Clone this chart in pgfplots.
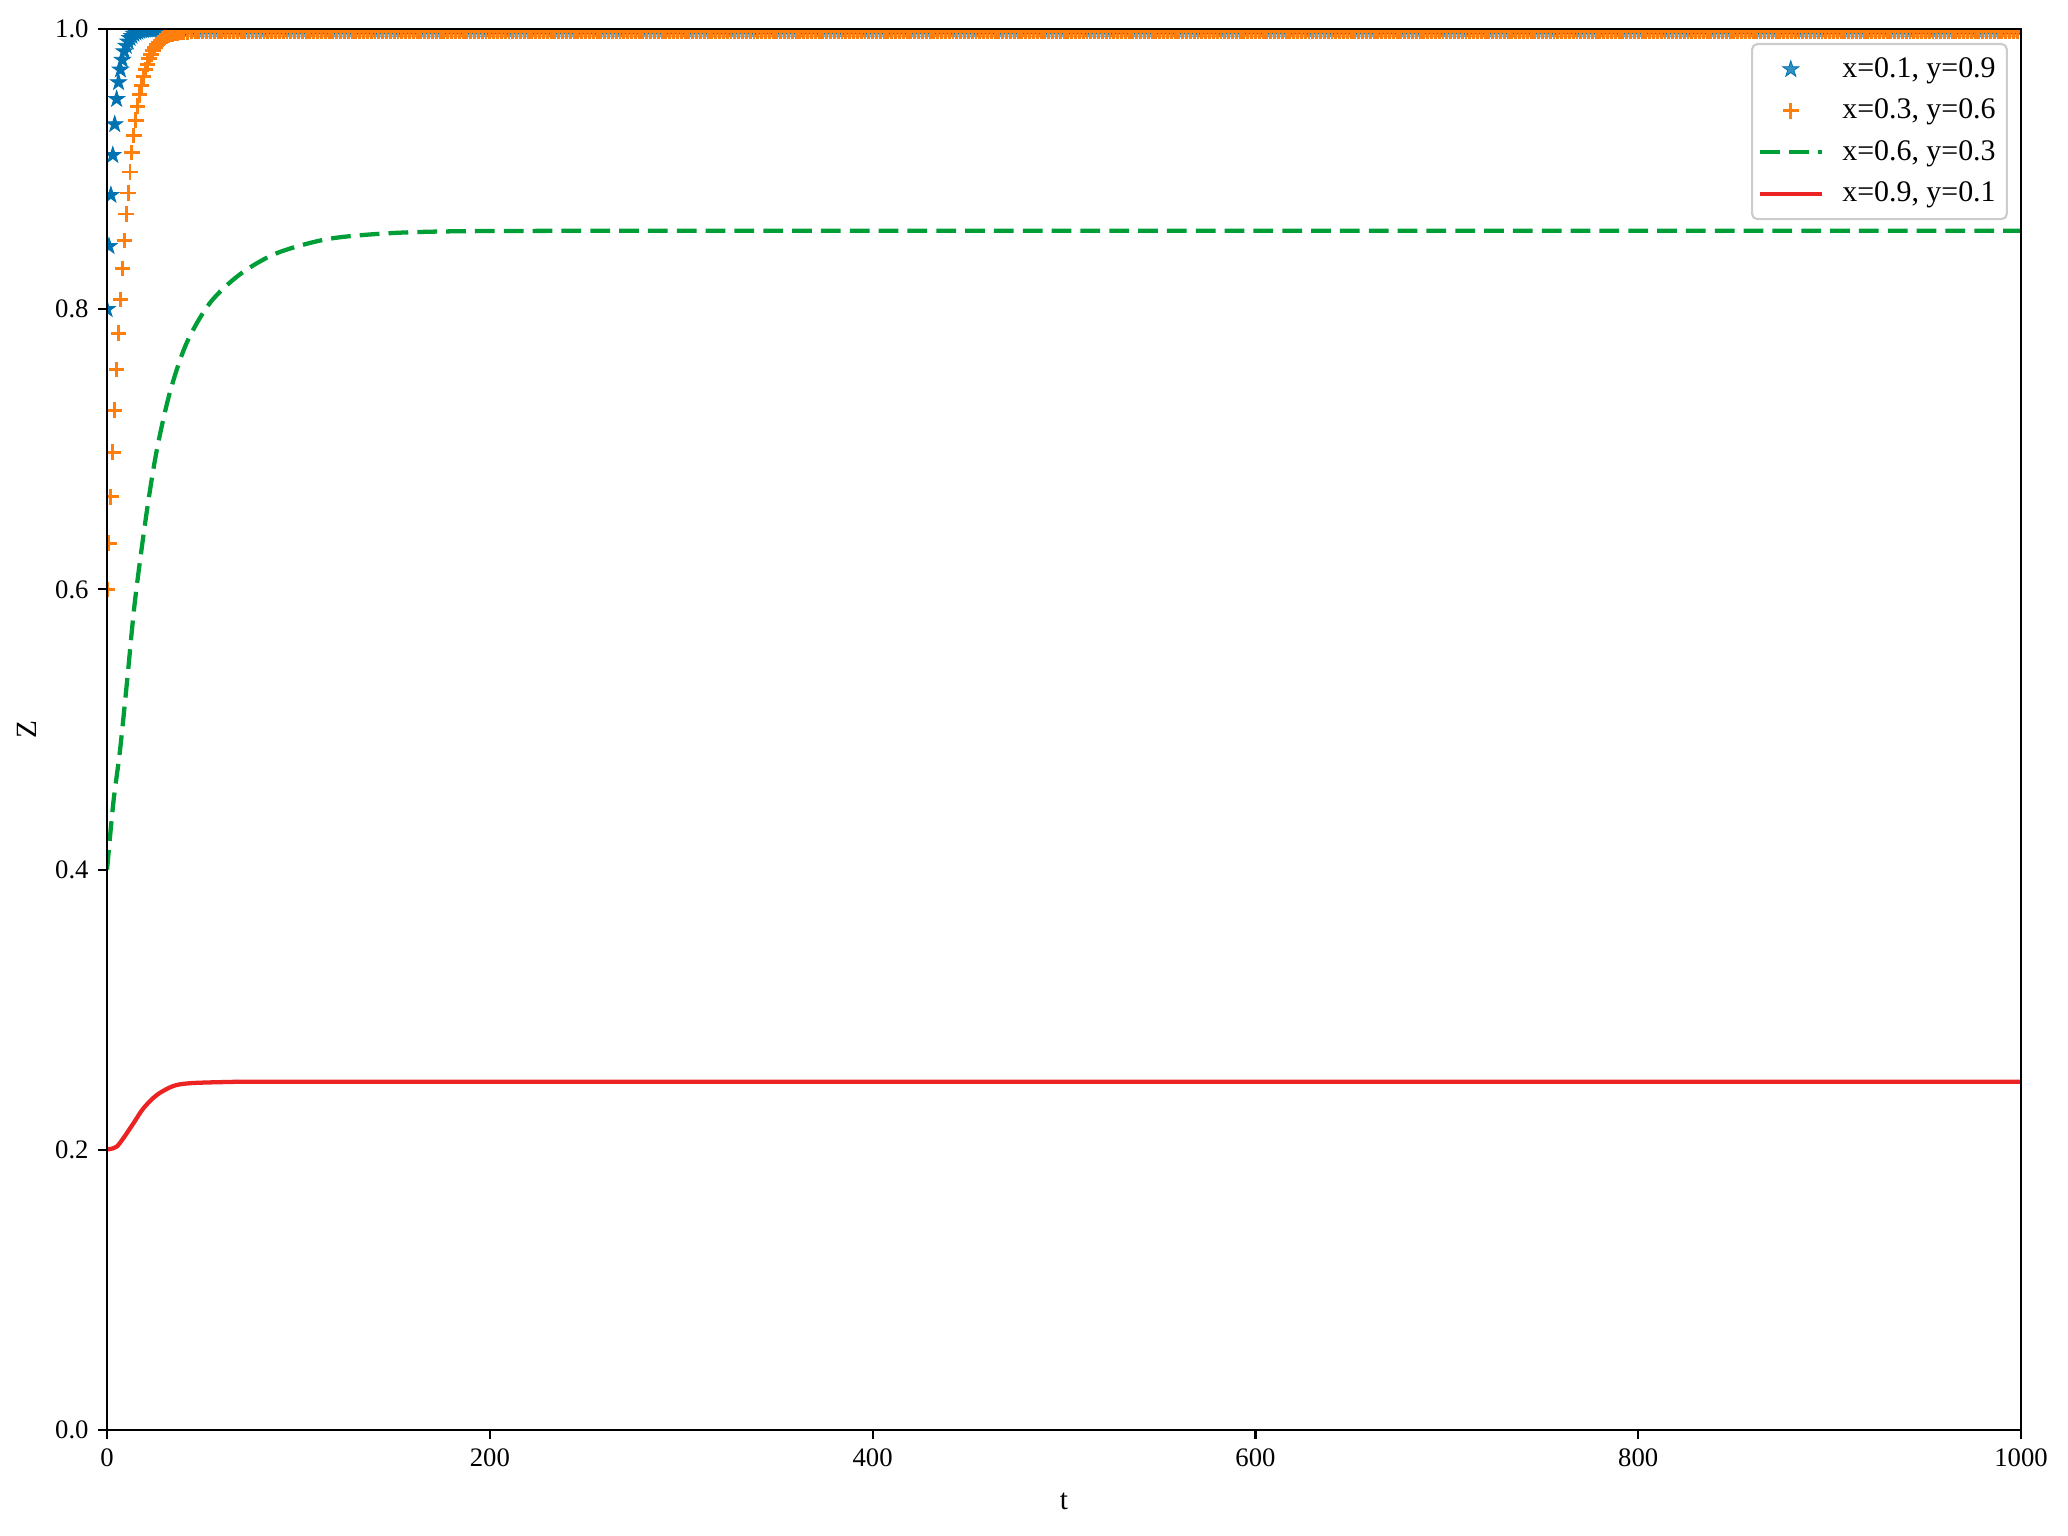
\documentclass[border=0pt]{standalone}
\usepackage{fontspec}
\setmainfont{Liberation Serif}
\usepackage{pgfplots}
\pgfplotsset{compat=1.18}
\usepackage{pgfplotstable}
\usetikzlibrary{calc}
\definecolor{cblue}{RGB}{1,115,178}
\definecolor{corange}{RGB}{255,127,14}
\definecolor{cgreen}{RGB}{0,158,54}
\definecolor{cred}{RGB}{235,35,35}

% filled five-pointed star, like matplotlib's '*'
\pgfdeclareplotmark{fstar}{%
  \pgfpathmoveto{\pgfpointpolar{90}{\pgfplotmarksize}}%
  \pgfpathlineto{\pgfpointpolar{126}{0.382\pgfplotmarksize}}%
  \pgfpathlineto{\pgfpointpolar{162}{\pgfplotmarksize}}%
  \pgfpathlineto{\pgfpointpolar{198}{0.382\pgfplotmarksize}}%
  \pgfpathlineto{\pgfpointpolar{234}{\pgfplotmarksize}}%
  \pgfpathlineto{\pgfpointpolar{270}{0.382\pgfplotmarksize}}%
  \pgfpathlineto{\pgfpointpolar{306}{\pgfplotmarksize}}%
  \pgfpathlineto{\pgfpointpolar{342}{0.382\pgfplotmarksize}}%
  \pgfpathlineto{\pgfpointpolar{18}{\pgfplotmarksize}}%
  \pgfpathlineto{\pgfpointpolar{54}{0.382\pgfplotmarksize}}%
  \pgfpathclose
  \pgfusepathqfillstroke
}

% marker series: a = (x=0.1, y=0.9), b = (x=0.3, y=0.6)
\pgfplotstableread[row sep=\\]{
t a b\\
0 0.800 0.600\\ 1 0.845 0.633\\ 2 0.8815 0.666\\ 3 0.910 0.698\\ 4 0.932 0.728\\
5 0.950 0.757\\ 6 0.962 0.783\\ 7 0.971 0.807\\ 8 0.978 0.829\\ 9 0.984 0.849\\
10 0.988 0.868\\ 11 0.991 0.883\\ 12 0.9935 0.898\\ 13 0.995 0.912\\ 14 0.9965 0.924\\
15 0.9975 0.935\\ 16 0.998 0.945\\ 17 0.9986 0.953\\ 18 0.999 0.960\\ 19 0.9993 0.966\\
20 0.9995 0.971\\ 21 0.9996 0.975\\ 22 0.9997 0.979\\ 23 0.9998 0.982\\ 24 0.9998 0.985\\
25 0.9999 0.987\\ 26 1 0.989\\ 27 1 0.9905\\ 28 1 0.992\\ 29 1 0.993\\
30 1 0.994\\ 31 1 0.9948\\ 32 1 0.9955\\ 33 1 0.996\\ 34 1 0.9965\\
35 1 0.9968\\ 36 1 0.997\\ 37 1 0.9973\\ 38 1 0.9975\\ 39 1 0.9977\\
40 1 0.9978\\ 42 1 0.998\\ 44 1 0.9981\\ 46 1 0.9982\\ 48 1 0.9983\\
50 1 .9985\\ 52 1 .9985\\ 54 1 .9985\\ 56 1 .9985\\ 58 1 .9985\\ 60 1 .9985\\ 62 1 .9985\\ 64 1 .9985\\ 66 1 .9985\\ 68 1 .9985\\
70 1 .9985\\ 72 1 .9985\\ 74 1 .9985\\ 76 1 .9985\\ 78 1 .9985\\ 80 1 .9985\\ 82 1 .9985\\ 84 1 .9985\\ 86 1 .9985\\ 88 1 .9985\\
90 1 .9985\\ 92 1 .9985\\ 94 1 .9985\\ 96 1 .9985\\ 98 1 .9985\\ 100 1 .9985\\ 102 1 .9985\\ 104 1 .9985\\ 106 1 .9985\\ 108 1 .9985\\
110 1 .9985\\ 112 1 .9985\\ 114 1 .9985\\ 116 1 .9985\\ 118 1 .9985\\ 120 1 .9985\\ 122 1 .9985\\ 124 1 .9985\\ 126 1 .9985\\ 128 1 .9985\\
130 1 .9985\\ 132 1 .9985\\ 134 1 .9985\\ 136 1 .9985\\ 138 1 .9985\\ 140 1 .9985\\ 142 1 .9985\\ 144 1 .9985\\ 146 1 .9985\\ 148 1 .9985\\
150 1 .9985\\ 152 1 .9985\\ 154 1 .9985\\ 156 1 .9985\\ 158 1 .9985\\ 160 1 .9985\\ 162 1 .9985\\ 164 1 .9985\\ 166 1 .9985\\ 168 1 .9985\\
170 1 .9985\\ 172 1 .9985\\ 174 1 .9985\\ 176 1 .9985\\ 178 1 .9985\\ 180 1 .9985\\ 182 1 .9985\\ 184 1 .9985\\ 186 1 .9985\\ 188 1 .9985\\
190 1 .9985\\ 192 1 .9985\\ 194 1 .9985\\ 196 1 .9985\\ 198 1 .9985\\ 200 1 .9985\\ 202 1 .9985\\ 204 1 .9985\\ 206 1 .9985\\ 208 1 .9985\\
210 1 .9985\\ 212 1 .9985\\ 214 1 .9985\\ 216 1 .9985\\ 218 1 .9985\\ 220 1 .9985\\ 222 1 .9985\\ 224 1 .9985\\ 226 1 .9985\\ 228 1 .9985\\
230 1 .9985\\ 232 1 .9985\\ 234 1 .9985\\ 236 1 .9985\\ 238 1 .9985\\ 240 1 .9985\\ 242 1 .9985\\ 244 1 .9985\\ 246 1 .9985\\ 248 1 .9985\\
250 1 .9985\\ 252 1 .9985\\ 254 1 .9985\\ 256 1 .9985\\ 258 1 .9985\\ 260 1 .9985\\ 262 1 .9985\\ 264 1 .9985\\ 266 1 .9985\\ 268 1 .9985\\
270 1 .9985\\ 272 1 .9985\\ 274 1 .9985\\ 276 1 .9985\\ 278 1 .9985\\ 280 1 .9985\\ 282 1 .9985\\ 284 1 .9985\\ 286 1 .9985\\ 288 1 .9985\\
290 1 .9985\\ 292 1 .9985\\ 294 1 .9985\\ 296 1 .9985\\ 298 1 .9985\\ 300 1 .9985\\ 302 1 .9985\\ 304 1 .9985\\ 306 1 .9985\\ 308 1 .9985\\
310 1 .9985\\ 312 1 .9985\\ 314 1 .9985\\ 316 1 .9985\\ 318 1 .9985\\ 320 1 .9985\\ 322 1 .9985\\ 324 1 .9985\\ 326 1 .9985\\ 328 1 .9985\\
330 1 .9985\\ 332 1 .9985\\ 334 1 .9985\\ 336 1 .9985\\ 338 1 .9985\\ 340 1 .9985\\ 342 1 .9985\\ 344 1 .9985\\ 346 1 .9985\\ 348 1 .9985\\
350 1 .9985\\ 352 1 .9985\\ 354 1 .9985\\ 356 1 .9985\\ 358 1 .9985\\ 360 1 .9985\\ 362 1 .9985\\ 364 1 .9985\\ 366 1 .9985\\ 368 1 .9985\\
370 1 .9985\\ 372 1 .9985\\ 374 1 .9985\\ 376 1 .9985\\ 378 1 .9985\\ 380 1 .9985\\ 382 1 .9985\\ 384 1 .9985\\ 386 1 .9985\\ 388 1 .9985\\
390 1 .9985\\ 392 1 .9985\\ 394 1 .9985\\ 396 1 .9985\\ 398 1 .9985\\ 400 1 .9985\\ 402 1 .9985\\ 404 1 .9985\\ 406 1 .9985\\ 408 1 .9985\\
410 1 .9985\\ 412 1 .9985\\ 414 1 .9985\\ 416 1 .9985\\ 418 1 .9985\\ 420 1 .9985\\ 422 1 .9985\\ 424 1 .9985\\ 426 1 .9985\\ 428 1 .9985\\
430 1 .9985\\ 432 1 .9985\\ 434 1 .9985\\ 436 1 .9985\\ 438 1 .9985\\ 440 1 .9985\\ 442 1 .9985\\ 444 1 .9985\\ 446 1 .9985\\ 448 1 .9985\\
450 1 .9985\\ 452 1 .9985\\ 454 1 .9985\\ 456 1 .9985\\ 458 1 .9985\\ 460 1 .9985\\ 462 1 .9985\\ 464 1 .9985\\ 466 1 .9985\\ 468 1 .9985\\
470 1 .9985\\ 472 1 .9985\\ 474 1 .9985\\ 476 1 .9985\\ 478 1 .9985\\ 480 1 .9985\\ 482 1 .9985\\ 484 1 .9985\\ 486 1 .9985\\ 488 1 .9985\\
490 1 .9985\\ 492 1 .9985\\ 494 1 .9985\\ 496 1 .9985\\ 498 1 .9985\\ 500 1 .9985\\ 502 1 .9985\\ 504 1 .9985\\ 506 1 .9985\\ 508 1 .9985\\
510 1 .9985\\ 512 1 .9985\\ 514 1 .9985\\ 516 1 .9985\\ 518 1 .9985\\ 520 1 .9985\\ 522 1 .9985\\ 524 1 .9985\\ 526 1 .9985\\ 528 1 .9985\\
530 1 .9985\\ 532 1 .9985\\ 534 1 .9985\\ 536 1 .9985\\ 538 1 .9985\\ 540 1 .9985\\ 542 1 .9985\\ 544 1 .9985\\ 546 1 .9985\\ 548 1 .9985\\
550 1 .9985\\ 552 1 .9985\\ 554 1 .9985\\ 556 1 .9985\\ 558 1 .9985\\ 560 1 .9985\\ 562 1 .9985\\ 564 1 .9985\\ 566 1 .9985\\ 568 1 .9985\\
570 1 .9985\\ 572 1 .9985\\ 574 1 .9985\\ 576 1 .9985\\ 578 1 .9985\\ 580 1 .9985\\ 582 1 .9985\\ 584 1 .9985\\ 586 1 .9985\\ 588 1 .9985\\
590 1 .9985\\ 592 1 .9985\\ 594 1 .9985\\ 596 1 .9985\\ 598 1 .9985\\ 600 1 .9985\\ 602 1 .9985\\ 604 1 .9985\\ 606 1 .9985\\ 608 1 .9985\\
610 1 .9985\\ 612 1 .9985\\ 614 1 .9985\\ 616 1 .9985\\ 618 1 .9985\\ 620 1 .9985\\ 622 1 .9985\\ 624 1 .9985\\ 626 1 .9985\\ 628 1 .9985\\
630 1 .9985\\ 632 1 .9985\\ 634 1 .9985\\ 636 1 .9985\\ 638 1 .9985\\ 640 1 .9985\\ 642 1 .9985\\ 644 1 .9985\\ 646 1 .9985\\ 648 1 .9985\\
650 1 .9985\\ 652 1 .9985\\ 654 1 .9985\\ 656 1 .9985\\ 658 1 .9985\\ 660 1 .9985\\ 662 1 .9985\\ 664 1 .9985\\ 666 1 .9985\\ 668 1 .9985\\
670 1 .9985\\ 672 1 .9985\\ 674 1 .9985\\ 676 1 .9985\\ 678 1 .9985\\ 680 1 .9985\\ 682 1 .9985\\ 684 1 .9985\\ 686 1 .9985\\ 688 1 .9985\\
690 1 .9985\\ 692 1 .9985\\ 694 1 .9985\\ 696 1 .9985\\ 698 1 .9985\\ 700 1 .9985\\ 702 1 .9985\\ 704 1 .9985\\ 706 1 .9985\\ 708 1 .9985\\
710 1 .9985\\ 712 1 .9985\\ 714 1 .9985\\ 716 1 .9985\\ 718 1 .9985\\ 720 1 .9985\\ 722 1 .9985\\ 724 1 .9985\\ 726 1 .9985\\ 728 1 .9985\\
730 1 .9985\\ 732 1 .9985\\ 734 1 .9985\\ 736 1 .9985\\ 738 1 .9985\\ 740 1 .9985\\ 742 1 .9985\\ 744 1 .9985\\ 746 1 .9985\\ 748 1 .9985\\
750 1 .9985\\ 752 1 .9985\\ 754 1 .9985\\ 756 1 .9985\\ 758 1 .9985\\ 760 1 .9985\\ 762 1 .9985\\ 764 1 .9985\\ 766 1 .9985\\ 768 1 .9985\\
770 1 .9985\\ 772 1 .9985\\ 774 1 .9985\\ 776 1 .9985\\ 778 1 .9985\\ 780 1 .9985\\ 782 1 .9985\\ 784 1 .9985\\ 786 1 .9985\\ 788 1 .9985\\
790 1 .9985\\ 792 1 .9985\\ 794 1 .9985\\ 796 1 .9985\\ 798 1 .9985\\ 800 1 .9985\\ 802 1 .9985\\ 804 1 .9985\\ 806 1 .9985\\ 808 1 .9985\\
810 1 .9985\\ 812 1 .9985\\ 814 1 .9985\\ 816 1 .9985\\ 818 1 .9985\\ 820 1 .9985\\ 822 1 .9985\\ 824 1 .9985\\ 826 1 .9985\\ 828 1 .9985\\
830 1 .9985\\ 832 1 .9985\\ 834 1 .9985\\ 836 1 .9985\\ 838 1 .9985\\ 840 1 .9985\\ 842 1 .9985\\ 844 1 .9985\\ 846 1 .9985\\ 848 1 .9985\\
850 1 .9985\\ 852 1 .9985\\ 854 1 .9985\\ 856 1 .9985\\ 858 1 .9985\\ 860 1 .9985\\ 862 1 .9985\\ 864 1 .9985\\ 866 1 .9985\\ 868 1 .9985\\
870 1 .9985\\ 872 1 .9985\\ 874 1 .9985\\ 876 1 .9985\\ 878 1 .9985\\ 880 1 .9985\\ 882 1 .9985\\ 884 1 .9985\\ 886 1 .9985\\ 888 1 .9985\\
890 1 .9985\\ 892 1 .9985\\ 894 1 .9985\\ 896 1 .9985\\ 898 1 .9985\\ 900 1 .9985\\ 902 1 .9985\\ 904 1 .9985\\ 906 1 .9985\\ 908 1 .9985\\
910 1 .9985\\ 912 1 .9985\\ 914 1 .9985\\ 916 1 .9985\\ 918 1 .9985\\ 920 1 .9985\\ 922 1 .9985\\ 924 1 .9985\\ 926 1 .9985\\ 928 1 .9985\\
930 1 .9985\\ 932 1 .9985\\ 934 1 .9985\\ 936 1 .9985\\ 938 1 .9985\\ 940 1 .9985\\ 942 1 .9985\\ 944 1 .9985\\ 946 1 .9985\\ 948 1 .9985\\
950 1 .9985\\ 952 1 .9985\\ 954 1 .9985\\ 956 1 .9985\\ 958 1 .9985\\ 960 1 .9985\\ 962 1 .9985\\ 964 1 .9985\\ 966 1 .9985\\ 968 1 .9985\\
970 1 .9985\\ 972 1 .9985\\ 974 1 .9985\\ 976 1 .9985\\ 978 1 .9985\\ 980 1 .9985\\ 982 1 .9985\\ 984 1 .9985\\ 986 1 .9985\\ 988 1 .9985\\
990 1 .9985\\ 992 1 .9985\\ 994 1 .9985\\ 996 1 .9985\\ 998 1 .9985\\ 1000 1 .9985\\
}\marks

\begin{document}
\begin{tikzpicture}
\begin{axis}[
    name=ax,
    scale only axis,
    width=716.9pt, height=524.7pt,
    xmin=0, xmax=1000, ymin=0, ymax=1,
    xtick={0,200,400,600,800,1000},
    ytick={0,0.2,0.4,0.6,0.8,1},
    xtick pos=bottom, ytick pos=left,
    tick align=outside,
    major tick length=3.4pt,
    axis line style={line width=0.8pt},
    every tick/.style={black, line width=0.8pt},
    /pgf/number format/assume math mode=true,
    /pgf/number format/1000 sep={},
    yticklabel style={/pgf/number format/.cd, fixed, fixed zerofill, precision=1},
    ticklabel style={font=\fontsize{10}{12}\selectfont},
    xlabel={t}, ylabel={Z},
    xlabel style={yshift=-3pt},
    label style={font=\fontsize{11}{13}\selectfont},
    clip marker paths=true,
    axis on top,
    legend cell align=left,
    legend image code/.code={%
      \draw[mark repeat=2, mark phase=2, #1] plot coordinates {(0pt,0pt) (11.5pt,0pt) (23pt,0pt)};},
    legend style={at={(1,1)}, anchor=north east, xshift=-4.9pt, yshift=-5.2pt,
      draw=black!20, line width=0.8pt, fill=white, fill opacity=0.8, text opacity=1,
      rounded corners=2pt, font=\fontsize{11.2}{13.4}\selectfont,
      row sep=2.6pt, inner xsep=2.2pt, inner ysep=3pt,
      /tikz/every odd column/.append style={column sep=5pt}},
]
\addplot[only marks, mark=fstar, mark size=3.2pt, color=cblue,
    mark options={fill=cblue, draw=cblue, line width=0.3pt}]
    table[x=t, y=a] {\marks};
\addlegendentry{x=0.1, y=0.9}
\addplot[only marks, mark=+, mark size=2.9pt, color=corange,
    mark options={line width=1.1pt}]
    table[x=t, y=b] {\marks};
\addlegendentry{x=0.3, y=0.6}
\addplot[cgreen, line width=1.6pt, dash pattern=on 7.4pt off 3.4pt, smooth] coordinates {
    (0,0.400) (3.3,0.448) (6.8,0.4854) (10.5,0.535) (14.6,0.592)
    (20.7,0.655) (26,0.6995) (32.9,0.741) (41.6,0.776) (53.8,0.8046)
    (69.5,0.825) (88.6,0.840) (114.8,0.850) (144,0.854) (179,0.8556)
    (250,0.856) (400,0.856) (600,0.856) (800,0.856) (1000,0.856)
};
\addlegendentry{x=0.6, y=0.3}
\addplot[cred, line width=1.6pt, smooth] coordinates {
    (0,0.2003) (1.6,0.2005) (5,0.2022) (8.5,0.2082) (13.8,0.2189)
    (19,0.2296) (26,0.2391) (34.6,0.2455) (43.4,0.2475) (60.7,0.2483)
    (80,0.2486) (150,0.2486) (400,0.2486) (700,0.2486) (1000,0.2486)
};
\addlegendentry{x=0.9, y=0.1}
\end{axis}
\pgfresetboundingbox
\path[use as bounding box] ($(ax.south west)+(-40.1pt,-39.7pt)$) rectangle ($(ax.north east)+(17.6pt,10.9pt)$);
\end{tikzpicture}
\end{document}
